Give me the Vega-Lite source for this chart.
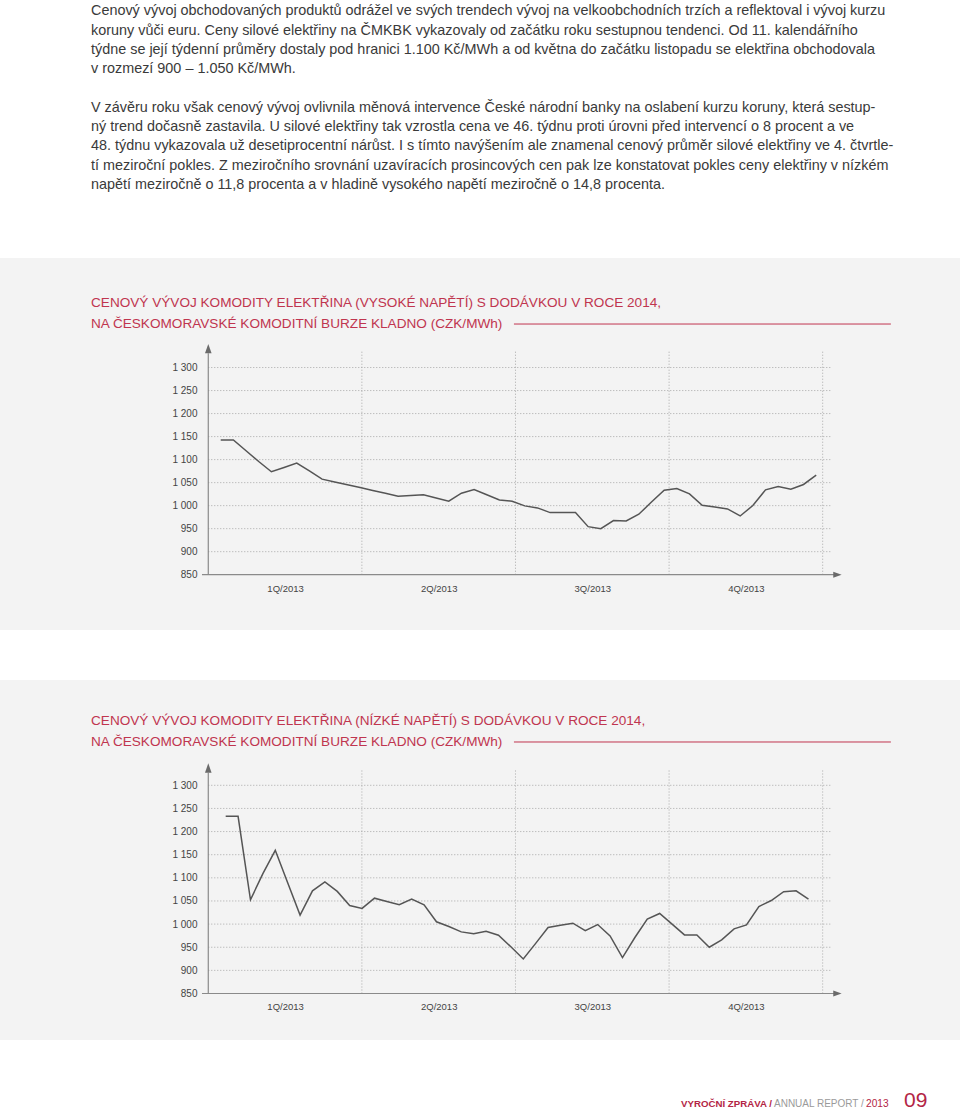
{
  "$schema": "https://vega.github.io/schema/vega-lite/v6.json",
  "padding": {"top": 3, "left": 0, "right": 0, "bottom": 0},
  "background": "#ffffff",
  "bounds": "flush",
  "spacing": 50,
  "title": {
    "text": [
      "Cenový vývoj obchodovaných produktů odrážel ve svých trendech vývoj na velkoobchodních trzích a reflektoval i vývoj kurzu",
      "koruny vůči euru. Ceny silové elektřiny na ČMKBK vykazovaly od začátku roku sestupnou tendenci. Od 11. kalendářního",
      "týdne se její týdenní průměry dostaly pod hranici 1.100 Kč/MWh a od května do začátku listopadu se elektřina obchodovala",
      "v rozmezí 900 – 1.050 Kč/MWh."
    ],
    "subtitle": [
      "V závěru roku však cenový vývoj ovlivnila měnová intervence České národní banky na oslabení kurzu koruny, která sestup-",
      "ný trend dočasně zastavila. U silové elektřiny tak vzrostla cena ve 46. týdnu proti úrovni před intervencí o 8 procent a ve",
      "48. týdnu vykazovala už desetiprocentní nárůst. I s tímto navýšením ale znamenal cenový průměr silové elektřiny ve 4. čtvrtle-",
      "tí meziroční pokles. Z meziročního srovnání uzavíracích prosincových cen pak lze konstatovat pokles ceny elektřiny v nízkém",
      "napětí meziročně o 11,8 procenta a v hladině vysokého napětí meziročně o 14,8 procenta."
    ],
    "anchor": "start",
    "frame": "bounds",
    "dx": 91,
    "offset": 65.6,
    "font": "Liberation Sans",
    "fontSize": 14.4,
    "fontWeight": "normal",
    "lineHeight": 19.3,
    "color": "#3a3a3a",
    "subtitleFont": "Liberation Sans",
    "subtitleFontSize": 14.4,
    "subtitleFontWeight": "normal",
    "subtitleLineHeight": 19.3,
    "subtitleColor": "#3a3a3a",
    "subtitlePadding": 24.2
  },
  "datasets": {
    "grid": [{"price": 900}, {"price": 950}, {"price": 1000}, {"price": 1050}, {"price": 1100}, {"price": 1150}, {"price": 1200}, {"price": 1250}, {"price": 1300}],
    "quarters": [{"quarter": 1}, {"quarter": 2}, {"quarter": 3}, {"quarter": 4}],
    "one": [{}],
    "high": [
      {"week": 1, "price": 1142.7}, {"week": 2, "price": 1142.7}, {"week": 3, "price": 1119.3}, {"week": 4, "price": 1095.8},
      {"week": 5, "price": 1073.6}, {"week": 6, "price": 1083.0}, {"week": 7, "price": 1092.5}, {"week": 8, "price": 1075.6},
      {"week": 9, "price": 1057.6}, {"week": 10, "price": 1051.4}, {"week": 11, "price": 1045.3}, {"week": 12, "price": 1039.2},
      {"week": 13, "price": 1033.0}, {"week": 14, "price": 1026.8}, {"week": 15, "price": 1020.5}, {"week": 16, "price": 1022.0},
      {"week": 17, "price": 1023.4}, {"week": 18, "price": 1016.8}, {"week": 19, "price": 1009.6}, {"week": 20, "price": 1027.0},
      {"week": 21, "price": 1035.0}, {"week": 22, "price": 1023.8}, {"week": 23, "price": 1012.5}, {"week": 24, "price": 1009.6},
      {"week": 25, "price": 999.5}, {"week": 26, "price": 995.1}, {"week": 27, "price": 984.9}, {"week": 28, "price": 984.9},
      {"week": 29, "price": 984.9}, {"week": 30, "price": 954.4}, {"week": 31, "price": 950.0}, {"week": 32, "price": 967.5},
      {"week": 33, "price": 966.7}, {"week": 34, "price": 981.3}, {"week": 35, "price": 1007.8}, {"week": 36, "price": 1033.6},
      {"week": 37, "price": 1037.3}, {"week": 38, "price": 1025.6}, {"week": 39, "price": 1000.9}, {"week": 40, "price": 997.3},
      {"week": 41, "price": 992.9}, {"week": 42, "price": 977.6}, {"week": 43, "price": 1000.2}, {"week": 44, "price": 1034.4},
      {"week": 45, "price": 1041.6}, {"week": 46, "price": 1035.8}, {"week": 47, "price": 1046.0}, {"week": 48, "price": 1066.4}
    ],
    "low": [
      {"week": 1, "price": 1233.0}, {"week": 2, "price": 1233.0}, {"week": 3, "price": 1052.6}, {"week": 4, "price": 1109.0},
      {"week": 5, "price": 1159.5}, {"week": 6, "price": 1089.5}, {"week": 7, "price": 1019.4}, {"week": 8, "price": 1072.0},
      {"week": 9, "price": 1091.0}, {"week": 10, "price": 1070.7}, {"week": 11, "price": 1040.3}, {"week": 12, "price": 1034.0},
      {"week": 13, "price": 1056.0}, {"week": 14, "price": 1049.0}, {"week": 15, "price": 1041.8}, {"week": 16, "price": 1054.0},
      {"week": 17, "price": 1041.8}, {"week": 18, "price": 1005.0}, {"week": 19, "price": 994.8}, {"week": 20, "price": 983.2},
      {"week": 21, "price": 979.0}, {"week": 22, "price": 984.7}, {"week": 23, "price": 976.0}, {"week": 24, "price": 950.9},
      {"week": 25, "price": 924.7}, {"week": 26, "price": 958.4}, {"week": 27, "price": 992.6}, {"week": 28, "price": 997.3},
      {"week": 29, "price": 1002.0}, {"week": 30, "price": 986.0}, {"week": 31, "price": 999.0}, {"week": 32, "price": 974.6},
      {"week": 33, "price": 927.6}, {"week": 34, "price": 971.0}, {"week": 35, "price": 1010.7}, {"week": 36, "price": 1023.0},
      {"week": 37, "price": 999.9}, {"week": 38, "price": 976.7}, {"week": 39, "price": 976.7}, {"week": 40, "price": 950.0},
      {"week": 41, "price": 965.9}, {"week": 42, "price": 989.7}, {"week": 43, "price": 998.4}, {"week": 44, "price": 1038.0},
      {"week": 45, "price": 1051.0}, {"week": 46, "price": 1070.0}, {"week": 47, "price": 1072.0}, {"week": 48, "price": 1054.0}
    ],
    "footer": [
      {"part": "VYROČNÍ ZPRÁVA /", "kind": "brand"},
      {"part": "ANNUAL REPORT /", "kind": "english"},
      {"part": "2013", "kind": "year"},
      {"part": "09", "kind": "page"}
    ]
  },
  "vconcat": [
    {
      "width": 960,
      "height": 372,
      "view": {"fill": "#f3f3f3", "stroke": null},
      "title": {
        "text": ["CENOVÝ VÝVOJ KOMODITY ELEKTŘINA (VYSOKÉ NAPĚTÍ) S DODÁVKOU V ROCE 2014,", "NA ČESKOMORAVSKÉ KOMODITNÍ BURZE KLADNO (CZK/MWh)"],
        "anchor": "start", "frame": "group", "dx": 91, "offset": -72.5,
        "font": "Liberation Sans", "fontSize": 13.6, "fontWeight": "normal", "lineHeight": 21, "color": "#c0354f"
      },
      "resolve": {"scale": {"x": "independent"}},
      "layer": [
        {
          "layer": [
            {
              "data": {"name": "grid"},
              "mark": {"type": "rule", "color": "#a8a8a8", "strokeWidth": 1, "strokeDash": [1, 2]},
              "encoding": {
                "y": {"field": "price", "type": "quantitative", "title": null, "scale": {"domain": [729.9, 1537.9], "nice": false, "zero": false},
                  "axis": {"values": [850, 900, 950, 1000, 1050, 1100, 1150, 1200, 1250, 1300], "tickCount": 30, "labelExpr": "replace(format(datum.value, ','), ',', ' ')",
                    "domain": false, "ticks": false, "tickSize": 0, "grid": false, "title": null, "offset": -197, "labelPadding": 0,
                    "labelFont": "Liberation Sans", "labelFontSize": 10, "labelColor": "#444444", "labelAlign": "right", "labelBaseline": "middle", "labelOverlap": false}},
                "x": {"datum": 0, "type": "quantitative", "scale": {"domain": [-1.356, 4.894], "nice": false, "zero": false}},
                "x2": {"datum": 4.05}
              }
            },
            {
              "data": {"name": "quarters"},
              "mark": {"type": "rule", "color": "#a8a8a8", "strokeWidth": 1, "strokeDash": [1, 2]},
              "encoding": {
                "x": {"field": "quarter", "type": "quantitative", "title": null,
                  "axis": {"values": [0.5, 1.5, 2.5, 3.5], "tickCount": 30, "labelExpr": "['1Q/2013','2Q/2013','3Q/2013','4Q/2013'][floor(datum.value)]",
                    "domain": false, "ticks": false, "tickSize": 0, "grid": false, "title": null, "orient": "bottom", "offset": -41.7, "labelPadding": 0,
                    "labelFont": "Liberation Sans", "labelFontSize": 9.5, "labelColor": "#444444", "labelAlign": "center", "labelBaseline": "middle", "labelFlush": false, "labelOverlap": false}},
                "y": {"datum": 850, "type": "quantitative"},
                "y2": {"datum": 1338}
              }
            },
            {
              "data": {"name": "one"},
              "mark": {"type": "rule", "color": "#8a8a8a", "strokeWidth": 1.2},
              "encoding": {
                "x": {"datum": 0, "type": "quantitative"},
                "y": {"datum": 850, "type": "quantitative"},
                "y2": {"datum": 1331}
              }
            },
            {
              "data": {"name": "one"},
              "mark": {"type": "rule", "color": "#8a8a8a", "strokeWidth": 1.2},
              "encoding": {
                "x": {"datum": -0.041, "type": "quantitative"},
                "x2": {"datum": 4.085},
                "y": {"datum": 850, "type": "quantitative"}
              }
            },
            {
              "data": {"name": "one"},
              "mark": {"type": "rule", "color": "#c0354f", "strokeWidth": 1},
              "encoding": {
                "x": {"datum": 1.99, "type": "quantitative"},
                "x2": {"datum": 4.444},
                "y": {"datum": 1394.5, "type": "quantitative"}
              }
            },
            {
              "data": {"name": "one"},
              "mark": {"type": "point", "shape": "M-0.7,1L0.7,1L0,-1Z", "filled": true, "color": "#6a6a6a", "size": 88, "opacity": 1},
              "encoding": {
                "x": {"datum": 0, "type": "quantitative"},
                "y": {"datum": 1341, "type": "quantitative"}
              }
            },
            {
              "data": {"name": "one"},
              "mark": {"type": "point", "shape": "M-1,-0.7L1,0L-1,0.7Z", "filled": true, "color": "#6a6a6a", "size": 70, "opacity": 1},
              "encoding": {
                "x": {"datum": 4.096, "type": "quantitative"},
                "y": {"datum": 850, "type": "quantitative"}
              }
            }
          ]
        },
        {
          "data": {"name": "high"},
          "mark": {"type": "line", "color": "#555555", "strokeWidth": 1.5},
          "encoding": {
            "x": {"field": "week", "type": "quantitative", "title": null, "scale": {"domain": [-16.42, 59.35], "nice": false, "zero": false}, "axis": null},
            "y": {"field": "price", "type": "quantitative", "title": null}
          }
        }
      ]
    },
    {
      "width": 960,
      "height": 360,
      "view": {"fill": "#f3f3f3", "stroke": null},
      "title": {
        "text": ["CENOVÝ VÝVOJ KOMODITY ELEKTŘINA (NÍZKÉ NAPĚTÍ) S DODÁVKOU V ROCE 2014,", "NA ČESKOMORAVSKÉ KOMODITNÍ BURZE KLADNO (CZK/MWh)"],
        "anchor": "start", "frame": "group", "dx": 91, "offset": -68.5,
        "font": "Liberation Sans", "fontSize": 13.6, "fontWeight": "normal", "lineHeight": 21, "color": "#c0354f"
      },
      "resolve": {"scale": {"x": "independent"}},
      "layer": [
        {
          "layer": [
            {
              "data": {"name": "grid"},
              "mark": {"type": "rule", "color": "#a8a8a8", "strokeWidth": 1, "strokeDash": [1, 2]},
              "encoding": {
                "y": {"field": "price", "type": "quantitative", "title": null, "scale": {"domain": [749.5, 1527.6], "nice": false, "zero": false},
                  "axis": {"values": [850, 900, 950, 1000, 1050, 1100, 1150, 1200, 1250, 1300], "tickCount": 30, "labelExpr": "replace(format(datum.value, ','), ',', ' ')",
                    "domain": false, "ticks": false, "tickSize": 0, "grid": false, "title": null, "offset": -197, "labelPadding": 0,
                    "labelFont": "Liberation Sans", "labelFontSize": 10, "labelColor": "#444444", "labelAlign": "right", "labelBaseline": "middle", "labelOverlap": false}},
                "x": {"datum": 0, "type": "quantitative", "scale": {"domain": [-1.356, 4.894], "nice": false, "zero": false}},
                "x2": {"datum": 4.05}
              }
            },
            {
              "data": {"name": "quarters"},
              "mark": {"type": "rule", "color": "#a8a8a8", "strokeWidth": 1, "strokeDash": [1, 2]},
              "encoding": {
                "x": {"field": "quarter", "type": "quantitative", "title": null,
                  "axis": {"values": [0.5, 1.5, 2.5, 3.5], "tickCount": 30, "labelExpr": "['1Q/2013','2Q/2013','3Q/2013','4Q/2013'][floor(datum.value)]",
                    "domain": false, "ticks": false, "tickSize": 0, "grid": false, "title": null, "orient": "bottom", "offset": -33.3, "labelPadding": 0,
                    "labelFont": "Liberation Sans", "labelFontSize": 9.5, "labelColor": "#444444", "labelAlign": "center", "labelBaseline": "middle", "labelFlush": false, "labelOverlap": false}},
                "y": {"datum": 850, "type": "quantitative"},
                "y2": {"datum": 1335}
              }
            },
            {
              "data": {"name": "one"},
              "mark": {"type": "rule", "color": "#8a8a8a", "strokeWidth": 1.2},
              "encoding": {
                "x": {"datum": 0, "type": "quantitative"},
                "y": {"datum": 850, "type": "quantitative"},
                "y2": {"datum": 1327}
              }
            },
            {
              "data": {"name": "one"},
              "mark": {"type": "rule", "color": "#8a8a8a", "strokeWidth": 1.2},
              "encoding": {
                "x": {"datum": -0.041, "type": "quantitative"},
                "x2": {"datum": 4.085},
                "y": {"datum": 850, "type": "quantitative"}
              }
            },
            {
              "data": {"name": "one"},
              "mark": {"type": "rule", "color": "#c0354f", "strokeWidth": 1},
              "encoding": {
                "x": {"datum": 1.99, "type": "quantitative"},
                "x2": {"datum": 4.444},
                "y": {"datum": 1393.6, "type": "quantitative"}
              }
            },
            {
              "data": {"name": "one"},
              "mark": {"type": "point", "shape": "M-0.7,1L0.7,1L0,-1Z", "filled": true, "color": "#6a6a6a", "size": 88, "opacity": 1},
              "encoding": {
                "x": {"datum": 0, "type": "quantitative"},
                "y": {"datum": 1337.5, "type": "quantitative"}
              }
            },
            {
              "data": {"name": "one"},
              "mark": {"type": "point", "shape": "M-1,-0.7L1,0L-1,0.7Z", "filled": true, "color": "#6a6a6a", "size": 70, "opacity": 1},
              "encoding": {
                "x": {"datum": 4.096, "type": "quantitative"},
                "y": {"datum": 850, "type": "quantitative"}
              }
            }
          ]
        },
        {
          "data": {"name": "low"},
          "mark": {"type": "line", "color": "#555555", "strokeWidth": 1.5},
          "encoding": {
            "x": {"field": "week", "type": "quantitative", "title": null, "scale": {"domain": [-17.2, 60.22], "nice": false, "zero": false}, "axis": null},
            "y": {"field": "price", "type": "quantitative", "title": null}
          }
        }
      ]
    },
    {
      "width": 960,
      "height": 23.5,
      "data": {"name": "footer"},
      "layer": [
        {
          "transform": [{"filter": "datum.kind == 'brand'"}],
          "mark": {"type": "text", "align": "left", "baseline": "middle", "dy": 2, "font": "Liberation Sans", "fontSize": 9.7, "fontWeight": "bold", "color": "#b32545"},
          "encoding": {
            "text": {"field": "part"},
            "x": {"datum": 681, "type": "quantitative", "scale": {"domain": [0, 960], "nice": false, "zero": false}, "axis": null}
          }
        },
        {
          "transform": [{"filter": "datum.kind == 'english'"}],
          "mark": {"type": "text", "align": "left", "baseline": "middle", "dy": 2, "font": "Liberation Sans", "fontSize": 10, "fontWeight": "normal", "color": "#9a9a9a"},
          "encoding": {
            "text": {"field": "part"},
            "x": {"datum": 774, "type": "quantitative", "axis": null}
          }
        },
        {
          "transform": [{"filter": "datum.kind == 'year'"}],
          "mark": {"type": "text", "align": "left", "baseline": "middle", "dy": 2, "font": "Liberation Sans", "fontSize": 10.2, "fontWeight": "normal", "color": "#b32545"},
          "encoding": {
            "text": {"field": "part"},
            "x": {"datum": 866, "type": "quantitative", "axis": null}
          }
        },
        {
          "transform": [{"filter": "datum.kind == 'page'"}],
          "mark": {"type": "text", "align": "left", "baseline": "middle", "dy": -0.5, "font": "Liberation Sans", "fontSize": 21, "fontWeight": "normal", "color": "#b32545"},
          "encoding": {
            "text": {"field": "part"},
            "x": {"datum": 904, "type": "quantitative", "axis": null}
          }
        }
      ]
    }
  ],
  "config": {
    "view": {"stroke": null},
    "axis": {"labelFont": "Liberation Sans", "labelOverlap": false, "labelSeparation": 0}
  }
}
